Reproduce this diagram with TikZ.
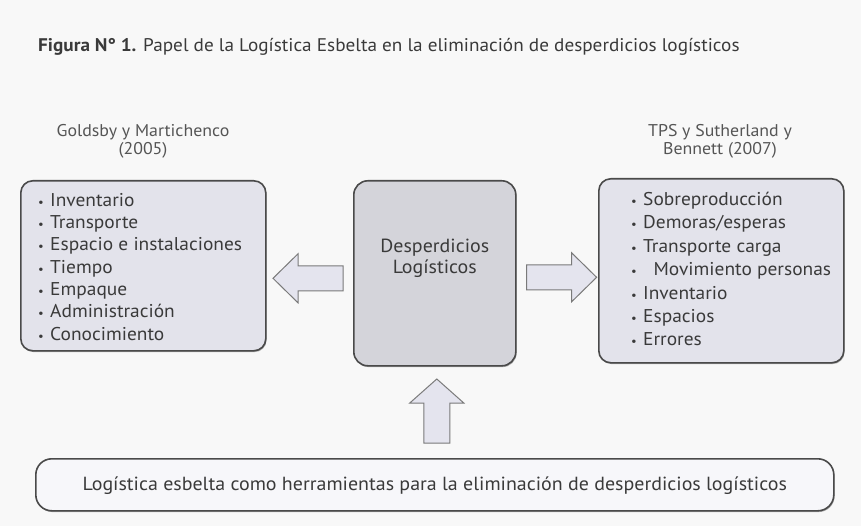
\documentclass[tikz,border=0pt]{standalone}
\usepackage{fontspec}
\setmainfont[FakeStretch=1.05]{PT Sans}
\usetikzlibrary{calc,shadows}
\definecolor{bg}{HTML}{F8F8F8}
\definecolor{boxfill}{HTML}{E3E3EB}
\definecolor{midfill}{HTML}{D4D4DA}
\definecolor{lowfill}{HTML}{F7F7FA}
\definecolor{edge}{HTML}{4A4A4A}
\definecolor{txt}{HTML}{3A3A3A}
\definecolor{headtxt}{HTML}{555555}
\definecolor{arrowfill}{HTML}{E4E4EE}
\definecolor{arrowedge}{HTML}{7A7A7A}
\newcommand\itm[1]{\makebox[12pt][l]{\fontsize{12}{12}\selectfont\textbullet}#1}
\begin{document}
\begin{tikzpicture}[x=1pt,y=-1pt,
  panel/.style={draw=edge, line width=1.6pt, rounded corners=12pt, fill=boxfill,
    inner sep=0pt, anchor=north west,
    drop shadow={shadow xshift=0.8pt, shadow yshift=-1.3pt, fill=black, opacity=0.3}},
  listtext/.style={anchor=north west, align=left, inner sep=0pt, text=txt,
    font=\fontsize{18.5}{#1}\selectfont},
  headtext/.style={align=center, inner sep=0pt, text=headtxt,
    font=\fontsize{17}{18}\selectfont},
  blockarrow/.style={draw=arrowedge, line width=1pt, fill=arrowfill, line join=miter}
]
\useasboundingbox[fill=bg] (0,0) rectangle (861,526);

% title
\node[anchor=west, inner sep=0pt, text=txt, font=\fontsize{18.3}{18.3}\selectfont] (title) at (38,47)
  {\textbf{Figura N° 1.} Papel de la Logística Esbelta en la eliminación de desperdicios logísticos};

% headers
\node[headtext] (lhead) at (143,141) {Goldsby y Martichenco\\(2005)};
\node[headtext] (rhead) at (720,141) {TPS y Sutherland y\\Bennett (2007)};

% boxes
\node[panel, minimum width=245pt, minimum height=170pt] (left) at (20,180) {};
\node[panel, fill=midfill, rounded corners=14pt, minimum width=162pt, minimum height=185pt] (mid) at (353,180) {};
\node[panel, minimum width=245pt, minimum height=184pt] (right) at (598,178) {};
\node[panel, fill=lowfill, rounded corners=16pt, minimum width=798pt, minimum height=52pt] (low) at (35,458) {};

% texts in boxes
\node[listtext=22.3pt] (llist) at (38,193) {\itm{Inventario}\\\itm{Transporte}\\\itm{Espacio e instalaciones}\\\itm{Tiempo}\\\itm{Empaque}\\\itm{Administración}\\\itm{Conocimiento}};
\node[listtext=23.4pt] (rlist) at (631,192) {\itm{Sobreproducción}\\\itm{Demoras/esperas}\\\itm{Transporte carga}\\\itm{\ \ Movimiento personas}\\\itm{Inventario}\\\itm{Espacios}\\\itm{Errores}};
\node[align=center, inner sep=0pt, text=txt, font=\fontsize{19}{20.5}\selectfont] (midtext) at ($(mid.center)+(0,-15)$) {Desperdicios\\Logísticos};
\node[inner sep=0pt, text=txt, font=\fontsize{19}{19}\selectfont] (lowtext) at ($(low.center)+(0,1)$) {Logística esbelta como herramientas para la eliminación de desperdicios logísticos};

% block arrows
\coordinate (la) at ($(mid.west)+(-10,5)$);
\draw[blockarrow] (la) ++(0,-12.5) -- ++(-45,0) -- ++(0,-12) -- ++(-25,24.5) -- ++(25,24.5) -- ++(0,-12) -- ++(45,0) -- cycle;
\coordinate (ra) at ($(mid.east)+(10,4)$);
\draw[blockarrow] (ra) ++(0,-12.5) -- ++(45,0) -- ++(0,-12) -- ++(25,24.5) -- ++(-25,24.5) -- ++(0,-12) -- ++(-45,0) -- cycle;
\coordinate (ua) at ($(low.north)+(2,-15)$);
\draw[blockarrow] (ua) ++(-13,0) -- ++(0,-40) -- ++(-14,0) -- ++(27,-24) -- ++(27,24) -- ++(-14,0) -- ++(0,40) -- cycle;
\end{tikzpicture}
\end{document}
